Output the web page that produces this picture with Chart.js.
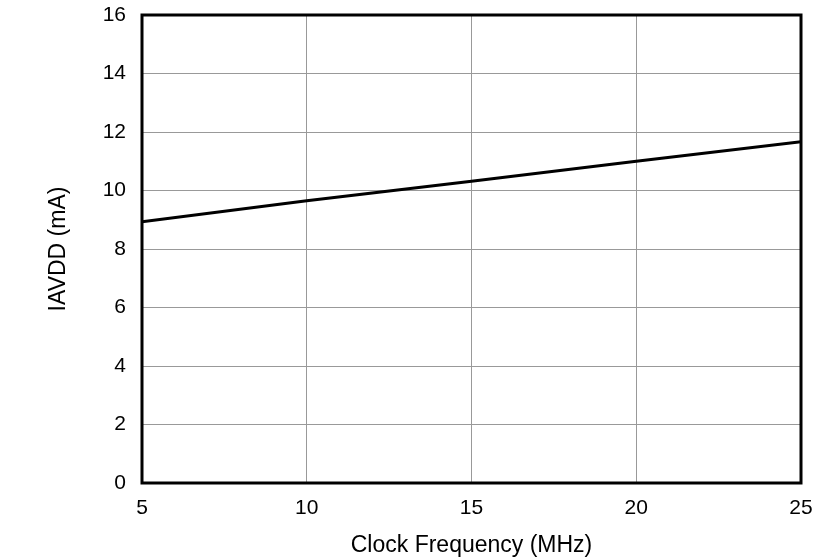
<!DOCTYPE html>
<html>
<head>
<meta charset="utf-8">
<script src="https://cdn.jsdelivr.net/npm/chart.js@4/dist/chart.umd.min.js"></script>
<style>
html,body{margin:0;padding:0;background:#fff;}
#wrap{width:839px;height:559px;}
</style>
</head>
<body>
<div id="wrap"><canvas id="c" width="839" height="559"></canvas></div>
<script>
const freqMHz = [5, 10, 15, 20, 25];
const iavddMA = [8.93, 9.65, 10.32, 11.0, 11.67];
const xTitle = 'Clock Frequency (MHz)';
const yTitle = 'IAVDD (mA)';

const framePlugin = {
  id: 'frame',
  afterDraw(chart) {
    const a = chart.chartArea, ctx = chart.ctx;
    ctx.save();
    ctx.strokeStyle = '#000';
    ctx.lineWidth = 3;
    ctx.strokeRect(a.left, a.top, a.right - a.left, a.bottom - a.top);
    ctx.restore();
  }
};

const fontFamily = '"Liberation Sans", Arial, Helvetica, sans-serif';

new Chart(document.getElementById('c'), {
  type: 'line',
  data: {
    datasets: [{
      data: freqMHz.map((x, i) => ({x: x, y: iavddMA[i]})),
      borderColor: '#000',
      borderWidth: 3,
      pointRadius: 0,
      fill: false,
      tension: 0
    }]
  },
  options: {
    responsive: false,
    animation: false,
    devicePixelRatio: 1,
    layout: {padding: {top: 15, right: 38, left: 0, bottom: 0}},
    plugins: {legend: {display: false}, tooltip: {enabled: false}},
    scales: {
      x: {
        type: 'linear', min: 5, max: 25,
        ticks: {stepSize: 5, padding: 13, color: '#000', font: {family: fontFamily, size: 21}, maxRotation: 0},
        grid: {color: '#999', lineWidth: 1, drawTicks: false},
        border: {display: false},
        title: {display: true, text: xTitle, color: '#000', font: {family: fontFamily, size: 23}, padding: {top: 0, bottom: 0}},
        afterFit(s) { s.height = 76; s.paddingLeft = 0; s.paddingRight = 0; }
      },
      y: {
        min: 0, max: 16,
        ticks: {stepSize: 2, padding: 16, color: '#000', font: {family: fontFamily, size: 21}},
        grid: {color: '#999', lineWidth: 1, drawTicks: false},
        border: {display: false},
        title: {display: true, text: yTitle, color: '#000', font: {family: fontFamily, size: 23}, padding: {top: 45, bottom: 0}},
        afterFit(s) { s.width = 142; s.paddingTop = 0; s.paddingBottom = 0; }
      }
    }
  },
  plugins: [framePlugin]
});
</script>
</body>
</html>
